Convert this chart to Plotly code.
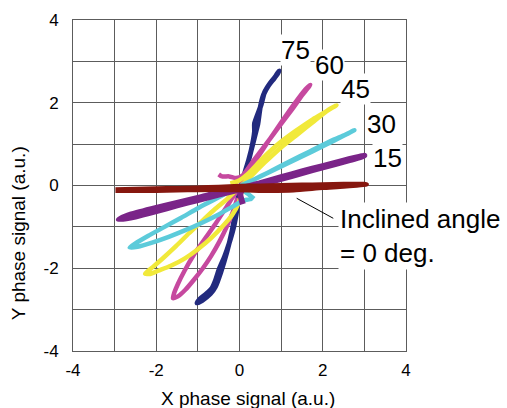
import plotly.graph_objects as go

# Lissajous-style X/Y phase signal loops for each inclination angle (deg)
angle_labels = ["0", "15", "30", "45", "60", "75"]
line_colors = ["#86170f", "#7a2488", "#5ccbda", "#f1e93a", "#c6499f", "#222a7e"]
line_widths = [5, 6, 4.5, 4.5, 4.5, 5]

x_deg0 = [-2.98, -2.5, -2.0, -1.5, -1.0, -0.5, 0.0, 0.5, 1.0, 1.5, 2.0, 2.5, 3.05,
          2.5, 2.0, 1.3, 0.7, 0.2, -0.3, -1.0, -1.5, -2.0, -2.5, -2.98]
y_deg0 = [-0.1, -0.09, -0.08, -0.07, -0.06, -0.04, -0.02, -0.01, 0.0, 0.01, 0.02, 0.03, 0.03,
          -0.02, -0.05, -0.11, -0.12, -0.11, -0.1, -0.1, -0.11, -0.12, -0.12, -0.12]

x_deg15 = [0.08, 0.02, 0.1, 0.5, 1.0, 1.5, 2.0, 2.5, 3.0, 2.6, 2.0, 1.5, 1.0, 0.5, 0.0,
           -0.5, -1.0, -1.5, -2.0, -2.5, -2.9, -2.6, -2.0, -1.5, -1.0, -0.5, -0.1]
y_deg15 = [-0.45, -0.2, -0.06, 0.06, 0.2, 0.34, 0.47, 0.6, 0.72, 0.6, 0.44, 0.3, 0.16, 0.02, -0.1,
           -0.22, -0.35, -0.48, -0.62, -0.75, -0.82, -0.7, -0.54, -0.42, -0.3, -0.17, -0.08]

x_deg30 = [0.35, 0.2, 0.05, 0.0, 0.3, 0.7, 1.2, 1.7, 2.2, 2.55, 2.76, 2.5, 2.0, 1.5, 1.0, 0.5, 0.1,
           -0.2, -0.6, -1.0, -1.4, -1.8, -2.2, -2.5, -2.64, -2.45, -2.1, -1.7, -1.3, -0.9, -0.5,
           -0.15, 0.1, 0.3]
y_deg30 = [-0.32, -0.2, -0.08, -0.02, 0.12, 0.32, 0.58, 0.83, 1.08, 1.23, 1.34, 1.2, 0.95, 0.7, 0.46,
           0.22, 0.02, -0.12, -0.34, -0.55, -0.78, -1.0, -1.22, -1.4, -1.5, -1.48, -1.38, -1.24,
           -1.08, -0.9, -0.7, -0.5, -0.36, -0.32]

x_deg45 = [-0.22, -0.05, 0.2, 0.55, 0.95, 1.35, 1.76, 2.1, 2.33, 2.15, 1.8, 1.4, 1.0, 0.6, 0.25,
           0.05, -0.08, -0.3, -0.6, -0.9, -1.22, -1.52, -1.82, -2.07, -2.27, -2.15, -1.95, -1.65,
           -1.31, -1.0, -0.67, -0.4, -0.18, -0.02, 0.05]
y_deg45 = [0.05, 0.1, 0.28, 0.65, 1.02, 1.32, 1.6, 1.8, 1.94, 1.84, 1.56, 1.24, 0.92, 0.55, 0.2,
           0.0, -0.12, -0.33, -0.58, -0.86, -1.16, -1.46, -1.74, -1.96, -2.13, -2.14, -2.06, -1.94,
           -1.76, -1.54, -1.26, -0.98, -0.72, -0.42, -0.15]

x_deg60 = [-0.5, -0.42, -0.25, -0.08, 0.08, 0.35, 0.65, 0.95, 1.25, 1.52, 1.7, 1.58, 1.3, 1.0,
           0.7, 0.4, 0.15, 0.0, -0.14, -0.3, -0.58, -0.84, -1.1, -1.32, -1.48, -1.57, -1.6,
           -1.48, -1.3, -1.08, -0.88, -0.68, -0.48, -0.3, -0.16, -0.05]
y_deg60 = [0.27, 0.22, 0.22, 0.18, 0.25, 0.62, 1.02, 1.42, 1.82, 2.2, 2.43, 2.32, 1.95, 1.52,
           1.08, 0.62, 0.22, -0.05, -0.25, -0.5, -0.93, -1.3, -1.68, -2.06, -2.38, -2.6, -2.72,
           -2.68, -2.52, -2.26, -2.0, -1.7, -1.35, -0.98, -0.64, -0.3]

x_deg75 = [0.05, 0.12, 0.22, 0.32, 0.4, 0.44, 0.5, 0.58, 0.7, 0.84, 0.95, 0.9, 0.74, 0.6, 0.52,
           0.36, 0.36, 0.28, 0.16, 0.05, -0.02, -0.08, -0.15, -0.25, -0.36, -0.48, -0.58, -0.66,
           -0.8, -0.95, -1.02, -0.9, -0.7, -0.58, -0.45, -0.3, -0.18, -0.08, 0.0]
y_deg75 = [0.0, 0.28, 0.62, 1.0, 1.32, 1.48, 1.9, 2.2, 2.42, 2.6, 2.77, 2.68, 2.48, 2.25, 1.95,
           1.5, 1.3, 0.85, 0.4, 0.05, -0.3, -0.7, -1.05, -1.4, -1.72, -2.0, -2.3, -2.48,
           -2.62, -2.74, -2.84, -2.78, -2.62, -2.45, -2.1, -1.6, -1.1, -0.55, -0.1]

series_x = [x_deg0, x_deg15, x_deg30, x_deg45, x_deg60, x_deg75]
series_y = [y_deg0, y_deg15, y_deg30, y_deg45, y_deg60, y_deg75]

tick_vals = [-4, -2, 0, 2, 4]
tick_text = ["-4", "-2", "0", "2", "4"]
minor_vals = [-3, -1, 1, 3]

fig = go.Figure()

# draw the steepest loop first so the shallow ones sit on top
for i in reversed(range(len(angle_labels))):
    fig.add_trace(go.Scatter(
        x=series_x[i], y=series_y[i], mode="lines",
        line=dict(color=line_colors[i], width=line_widths[i], shape="spline", smoothing=0.6),
        name=angle_labels[i], hoverinfo="skip",
    ))

grid_color = "#5c5c5c"
axis_common = dict(
    range=[-4, 4], tickmode="array", tickvals=tick_vals, ticktext=tick_text,
    showgrid=True, gridcolor=grid_color, gridwidth=1, zeroline=False,
    showline=True, mirror=True, linecolor=grid_color, linewidth=1,
    ticks="", tickfont=dict(size=17, color="black"),
    minor=dict(tickmode="array", tickvals=minor_vals, showgrid=True,
               gridcolor=grid_color, gridwidth=1, ticks=""),
)
fig.update_xaxes(**axis_common, ticklabelstandoff=4)
fig.update_yaxes(**axis_common, ticklabelstandoff=10)

label_font = dict(family="Liberation Sans, Arial, sans-serif", size=26, color="black")
label_pos = {"75": (1.353, 3.282), "60": (2.174, 2.912), "45": (2.782, 2.328),
             "30": (3.416, 1.482), "15": (3.551, 0.669)}
annotations = []
for txt, (ax_, ay_) in label_pos.items():
    annotations.append(dict(x=ax_, y=ay_, xref="x", yref="y", text=txt, showarrow=False,
                            font=label_font, bgcolor="white", xanchor="center",
                            yanchor="middle", borderpad=0))

annotations.append(dict(x=2.36, y=-1.216, xref="x", yref="y",
                        text="Inclined angle<br>= 0 deg.", showarrow=False, align="left",
                        font=label_font, bgcolor="white", xanchor="left", yanchor="middle",
                        borderpad=1))

title_font = dict(family="Liberation Sans, Arial, sans-serif", size=19, color="black")
annotations.append(dict(x=0.5255, y=-0.142, xref="paper", yref="paper",
                        text="X phase signal (a.u.)", showarrow=False, font=title_font,
                        xanchor="center", yanchor="middle"))
annotations.append(dict(x=-0.165, y=0.356, xref="paper", yref="paper",
                        text="Y phase signal (a.u.)", showarrow=False, font=title_font,
                        textangle=-90, xanchor="center", yanchor="middle"))

fig.update_layout(
    width=507, height=408,
    margin=dict(l=73, r=101, t=20, b=57),
    plot_bgcolor="white", paper_bgcolor="white",
    showlegend=False,
    font=dict(family="Liberation Sans, Arial, sans-serif", color="black"),
    annotations=annotations,
    shapes=[dict(type="line", xref="x", yref="y", x0=1.374, y0=-0.309, x1=2.253, y1=-0.793,
                 line=dict(color="black", width=1))],
)

fig.write_html("out.html")
